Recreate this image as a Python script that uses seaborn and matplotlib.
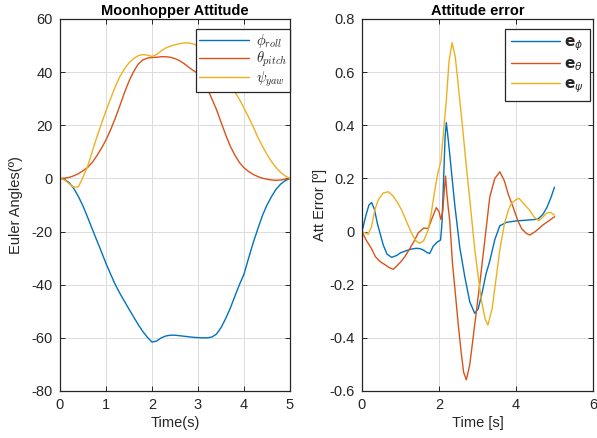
"""Moonhopper attitude and attitude error, MATLAB-style two-panel figure."""
import matplotlib
matplotlib.use("Agg")
import matplotlib.pyplot as plt
import seaborn as sns
from matplotlib.ticker import FuncFormatter

BLUE = "#0072BD"
RED = "#D95319"
YELLOW = "#EDB120"

# ---- left panel: Euler angles (deg) ----
T_ATT = [0.0, 0.1, 0.2, 0.3, 0.4, 0.5, 0.6, 0.7, 0.8, 0.9,
         1.0, 1.1, 1.2, 1.3, 1.4, 1.5, 1.6, 1.7, 1.8, 1.9,
         2.0, 2.1, 2.2, 2.3, 2.4, 2.5, 2.6, 2.7, 2.8, 2.9,
         3.0, 3.1, 3.2, 3.3, 3.4, 3.5, 3.6, 3.7, 3.8, 3.9,
         4.0, 4.1, 4.2, 4.3, 4.4, 4.5, 4.6, 4.7, 4.8, 4.9, 5.0]
ROLL = [0, -0.4, -1.6, -3.8, -6.8, -10.4, -14.6, -19, -23.3, -27.6,
        -32, -36, -39.9, -43.2, -46.2, -49.2, -52.1, -55, -57.6, -59.8,
        -61.6, -61.2, -60, -59.3, -59, -59, -59.2, -59.4, -59.6, -59.8,
        -59.9, -60, -60, -59.7, -58.6, -56.2, -52.8, -48.9, -44.4, -40,
        -36, -30, -24.2, -19, -14, -10, -6.8, -4, -2.1, -0.8, 0]
PITCH = [0, 0.1, 0.4, 1.0, 1.8, 2.9, 4.1, 6.0, 8.5, 11.3,
         14.5, 18.3, 22.6, 27.3, 32.2, 36.6, 40.2, 43, 44.6, 45.3,
         45.5, 45.6, 45.8, 45.8, 45.6, 45.1, 44.3, 43.2, 41.8, 40.6,
         39.5, 37.5, 34, 30, 26, 21.2, 16.5, 12.2, 8.8, 6.0,
         4.0, 2.6, 1.5, 0.7, 0.1, -0.3, -0.6, -0.7, -0.6, -0.3, 0]
YAW = [0, -0.6, -2, -3.3, -3.2, 0.5, 4.5, 10, 15.5, 20.5,
       25.5, 30, 34.5, 38.3, 41.2, 43.5, 45.1, 46.2, 46.6, 46.4,
       45.9, 46.6, 48, 49.1, 49.8, 50.3, 50.7, 51, 51, 50.6,
       49.8, 48.4, 46.5, 44.2, 41.8, 39.5, 37.2, 35, 32.5, 29.8,
       26.5, 23, 19.5, 15.5, 12.2, 9, 6.3, 4, 2.2, 0.9, 0]

# ---- right panel: attitude errors (deg) ----
T_EPHI = [0, 0.1, 0.18, 0.25, 0.32, 0.4, 0.47, 0.55, 0.65, 0.77, 0.9, 1.0,
          1.11, 1.25, 1.4, 1.5, 1.6, 1.7, 1.76, 1.85, 1.95, 2.04, 2.06, 2.08,
          2.12, 2.16, 2.19, 2.23, 2.3, 2.41, 2.54, 2.67, 2.8, 2.93, 3.02, 3.12,
          3.22, 3.32, 3.45, 3.58, 3.76, 4.0, 4.27, 4.45, 4.57, 4.7, 4.8, 4.9, 5.0]
E_PHI = [0, 0.06, 0.1, 0.109, 0.085, 0.03, -0.007, -0.05, -0.085, -0.097, -0.09, -0.08,
         -0.074, -0.067, -0.063, -0.064, -0.07, -0.08, -0.082, -0.055, -0.04, -0.032, 0.0, 0.04,
         0.2, 0.36, 0.41, 0.36, 0.26, 0.1, -0.06, -0.17, -0.265, -0.308, -0.29, -0.23,
         -0.16, -0.11, -0.03, 0.022, 0.035, 0.04, 0.043, 0.045, 0.047, 0.065, 0.09, 0.125, 0.167]

T_ETHETA = [0, 0.1, 0.25, 0.35, 0.47, 0.6, 0.7, 0.81, 0.9, 1.0, 1.11, 1.25,
            1.37, 1.46, 1.6, 1.72, 1.82, 1.93, 2.0, 2.05, 2.1, 2.14, 2.17, 2.2,
            2.24, 2.28, 2.35, 2.41, 2.5, 2.58, 2.64, 2.71, 2.8, 2.92, 3.06, 3.2,
            3.32, 3.45, 3.58, 3.7, 3.8, 3.92, 4.05, 4.15, 4.27, 4.36, 4.5, 4.6,
            4.7, 4.85, 5.0]
E_THETA = [0, -0.03, -0.065, -0.095, -0.113, -0.125, -0.135, -0.142, -0.13, -0.115, -0.095, -0.062,
           -0.032, -0.005, 0.013, 0.012, 0.05, 0.09, 0.075, 0.045, 0.08, 0.16, 0.209, 0.15,
           0.09, 0.04, -0.12, -0.21, -0.35, -0.46, -0.53, -0.558, -0.5, -0.36, -0.195, -0.02,
           0.131, 0.2, 0.225, 0.19, 0.14, 0.094, 0.04, 0.01, -0.007, -0.013, 0.0, 0.012,
           0.025, 0.04, 0.056]

T_EPSI = [0, 0.08, 0.16, 0.25, 0.33, 0.42, 0.55, 0.68, 0.8, 0.92, 1.03, 1.15,
          1.29, 1.4, 1.5, 1.6, 1.72, 1.8, 1.89, 1.97, 2.05, 2.12, 2.19, 2.26,
          2.34, 2.42, 2.48, 2.54, 2.62, 2.7, 2.8, 2.93, 3.02, 3.1, 3.2, 3.27,
          3.38, 3.48, 3.58, 3.7, 3.8, 3.88, 4.0, 4.08, 4.2, 4.35, 4.47, 4.59,
          4.7, 4.8, 4.9, 5.0]
E_PSI = [0, -0.005, -0.01, 0.02, 0.08, 0.119, 0.145, 0.15, 0.135, 0.11, 0.081, 0.04,
         -0.007, -0.035, -0.044, -0.035, 0.006, 0.07, 0.156, 0.22, 0.265, 0.38, 0.495, 0.64,
         0.711, 0.66, 0.58, 0.495, 0.38, 0.26, 0.12, -0.069, -0.17, -0.258, -0.33, -0.352,
         -0.29, -0.18, -0.069, 0.03, 0.08, 0.106, 0.12, 0.125, 0.105, 0.081, 0.055, 0.041,
         0.055, 0.07, 0.072, 0.062]

ATT_LABELS = [r"$\phi_{roll}$", r"$\theta_{pitch}$", r"$\psi_{yaw}$"]
ERR_LABELS = [r"$\mathbf{e}_{\phi}$", r"$\mathbf{e}_{\theta}$", r"$\mathbf{e}_{\psi}$"]

sns.set_theme(style="ticks")
plt.rcParams["font.family"] = ["Liberation Sans", "DejaVu Sans"]
plt.rcParams["axes.unicode_minus"] = False

TXT = "#262626"


def _matlab_axes(ax):
    ax.grid(True, color="#dcdcdc", linewidth=0.7)
    ax.set_axisbelow(True)
    for sp in ax.spines.values():
        sp.set_visible(True)
        sp.set_color(TXT)
        sp.set_linewidth(0.9)
    ax.tick_params(direction="in", top=True, right=True, length=3.5,
                   width=0.7, labelsize=10.5, colors=TXT, pad=5)


def _num(v, _pos):
    return f"{v:g}"


fig = plt.figure(figsize=(5.97, 4.38), dpi=100)
ax1 = fig.add_axes([60 / 597, 47 / 438, 230 / 597, 372 / 438])
ax2 = fig.add_axes([362 / 597, 47 / 438, 231 / 597, 372 / 438])

for y, c, lab in zip([ROLL, PITCH, YAW], [BLUE, RED, YELLOW], ATT_LABELS):
    sns.lineplot(x=T_ATT, y=y, color=c, linewidth=1.0, label=lab,
                 ax=ax1, sort=False, estimator=None)

series = [(T_EPHI, E_PHI), (T_ETHETA, E_THETA), (T_EPSI, E_PSI)]
for (t, y), c, lab in zip(series, [BLUE, RED, YELLOW], ERR_LABELS):
    sns.lineplot(x=t, y=y, color=c, linewidth=1.0, label=lab,
                 ax=ax2, sort=False, estimator=None)

ax1.set_xlim(0, 5)
ax1.set_ylim(-80, 60)
ax1.set_xticks([0, 1, 2, 3, 4, 5])
ax1.set_yticks([-80, -60, -40, -20, 0, 20, 40, 60])
_matlab_axes(ax1)
ax1.set_title("Moonhopper Attitude", fontsize=10.5, fontweight="bold",
              color="black", pad=3)
ax1.set_xlabel("Time(s)", fontsize=10.5, color=TXT, labelpad=3)
ax1.set_ylabel("Euler Angles(º)", fontsize=10.5, color=TXT, labelpad=6)

ax2.set_xlim(0, 6)
ax2.set_ylim(-0.6, 0.8)
ax2.set_xticks([0, 2, 4, 6])
ax2.set_yticks([-0.6, -0.4, -0.2, 0, 0.2, 0.4, 0.6, 0.8])
ax2.yaxis.set_major_formatter(FuncFormatter(_num))
_matlab_axes(ax2)
ax2.set_title("Attitude error", fontsize=10.5, fontweight="bold",
              color="black", pad=3)
ax2.set_xlabel("Time [s]", fontsize=10.5, color=TXT, labelpad=3)
ax2.set_ylabel("Att Error [º]", fontsize=10.5, color=TXT, labelpad=2)

leg1 = ax1.legend(loc="upper right", bbox_to_anchor=(1.0, 1 - 10 / 372),
                  borderaxespad=0, fontsize=10.5, frameon=True, fancybox=False,
                  handlelength=3.4, labelspacing=0.0, borderpad=0.2,
                  handletextpad=0.5)
leg2 = ax2.legend(loc="upper right", bbox_to_anchor=(1 - 3 / 231, 1 - 10 / 372),
                  borderaxespad=0, fontsize=11, frameon=True, fancybox=False,
                  handlelength=3.2, labelspacing=0.3, borderpad=0.4,
                  handletextpad=0.3)
for leg, mf in ((leg1, "cm"), (leg2, "dejavusans")):
    fr = leg.get_frame()
    fr.set_edgecolor(TXT)
    fr.set_linewidth(0.9)
    fr.set_alpha(1)
    for txt in leg.get_texts():
        txt.set_math_fontfamily(mf)

fig.savefig("out.png", dpi=100)
plt.close(fig)
